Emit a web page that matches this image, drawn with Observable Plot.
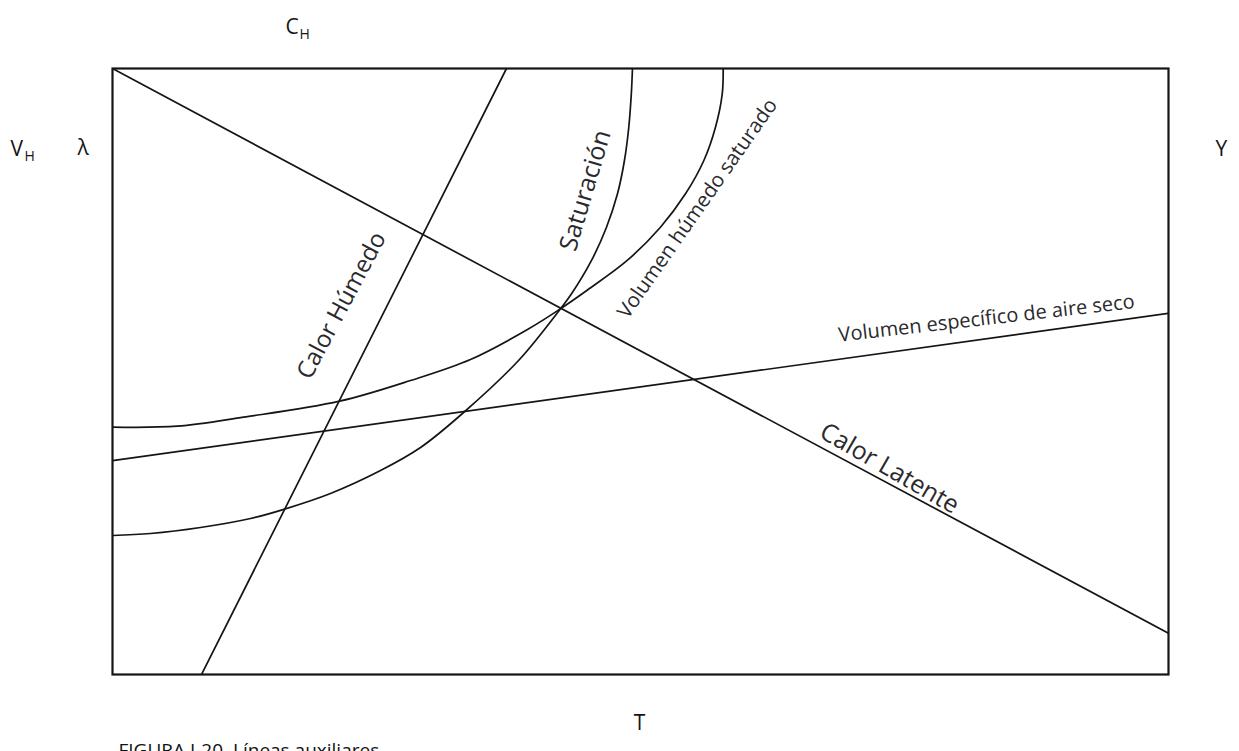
<!DOCTYPE html>
<html><head><meta charset="utf-8">
<script src="https://cdn.jsdelivr.net/npm/d3@7"></script>
<script src="https://cdn.jsdelivr.net/npm/@observablehq/plot@0.6"></script>
<style>html,body{margin:0;padding:0;background:#fff;overflow:hidden}</style>
</head><body><div id="chart"></div>
<script>
// Axis / label texts
const axisTop = ["C", "H"];
const axisLeft = ["V", "H", "λ"];
const axisRight = ["Y"];
const axisBottom = ["T"];
const captionText = ["FIGURA I-20. Líneas auxiliares"];
const lineLabels = ["Calor Húmedo", "Saturación", "Volumen húmedo saturado",
                    "Volumen específico de aire seco", "Calor Latente"];

// Series (T on x, 0-100 relative; ordinate 0-100 relative)
const saturacionT = [0, 3.6, 8.33, 13.07, 16.38, 20.64, 25.38, 29.17, 33.14, 38.45, 42.42, 43.47, 45.36, 46.78, 47.82, 48.48, 48.89, 49.13, 49.24];
const saturacionY = [22.94, 23.27, 24.26, 25.74, 27.34, 29.87, 33.66, 37.46, 43.07, 51.82, 60.35, 62.82, 68.32, 73.81, 79.32, 84.82, 90.31, 95.82, 100];

const volSatT = [0, 6.13, 12.41, 21.5, 28.22, 33.9, 39.3, 42.42, 44.98, 48.74, 51.89, 54.26, 56.0, 57.1, 57.74, 57.83];
const volSatY = [40.81, 40.97, 42.46, 45.1, 48.51, 51.98, 56.93, 60.35, 63.45, 68.32, 73.81, 79.32, 84.82, 90.31, 95.82, 100];

const latenteT = [0, 100];
const latenteY = [100, 6.8];

const humedoT = [8.43, 37.31];
const humedoY = [0, 100];

const secoT = [0, 100];
const secoY = [35.3, 59.6];

const toRows = (xs, ys) => xs.map((t, i) => ({t, v: ys[i]}));

const ink = "#151515";
const labelInk = "#2a2a2e";
const font = "Open Sans";
const lineOpts = {x: "t", y: "v", stroke: ink, strokeWidth: 1.7, clip: true};

const plot = Plot.plot({
  width: 1239,
  height: 751,
  marginLeft: 112,
  marginRight: 71,
  marginTop: 68,
  marginBottom: 77,
  x: {domain: [0, 100], axis: null},
  y: {domain: [0, 100], axis: null},
  style: {fontFamily: font, background: "#fff", overflow: "visible"},
  marks: [
    Plot.line(toRows(latenteT, latenteY), lineOpts),
    Plot.line(toRows(humedoT, humedoY), lineOpts),
    Plot.line(toRows(secoT, secoY), lineOpts),
    Plot.line(toRows(saturacionT, saturacionY), {...lineOpts, curve: "catmull-rom"}),
    Plot.line(toRows(volSatT, volSatY), {...lineOpts, curve: "catmull-rom"}),
    Plot.frame({stroke: ink, strokeWidth: 2.2}),

    // labels along the lines
    Plot.text([lineLabels[0]], {x: () => 21.69, y: () => 60.9, text: d => d, rotate: -62, fontSize: 24, fill: labelInk, fontFamily: font}),
    Plot.text([lineLabels[1]], {x: () => 44.79, y: () => 79.87, text: d => d, rotate: -73.5, fontSize: 25, fill: labelInk, fontFamily: font}),
    Plot.text([lineLabels[2]], {x: () => 55.4, y: () => 76.9, text: d => d, rotate: -55, fontSize: 20.5, fill: labelInk, fontFamily: font}),
    Plot.text([lineLabels[3]], {x: () => 82.77, y: () => 58.75, text: d => d, rotate: -6.5, fontSize: 20, fill: labelInk, fontFamily: font}),
    Plot.text([lineLabels[4]], {x: () => 73.58, y: () => 34.0, text: d => d, rotate: 30, fontSize: 25, fill: labelInk, fontFamily: font}),

    // axis labels
    Plot.text([axisTop[0]], {frameAnchor: "top-left", dx: 173, dy: -35, text: d => d, textAnchor: "start", lineAnchor: "bottom", fontSize: 21, fill: ink}),
    Plot.text([axisTop[1]], {frameAnchor: "top-left", dx: 187, dy: -30, text: d => d, textAnchor: "start", lineAnchor: "bottom", fontSize: 14, fill: ink}),
    Plot.text([axisLeft[0]], {frameAnchor: "top-left", dx: -102, dy: 87, text: d => d, textAnchor: "start", lineAnchor: "bottom", fontSize: 21, fill: ink}),
    Plot.text([axisLeft[1]], {frameAnchor: "top-left", dx: -88, dy: 92, text: d => d, textAnchor: "start", lineAnchor: "bottom", fontSize: 14, fill: ink}),
    Plot.text([axisLeft[2]], {frameAnchor: "top-left", dx: -35, dy: 86, text: d => d, textAnchor: "start", lineAnchor: "bottom", fontSize: 21, fill: ink}),
    Plot.text([axisRight[0]], {frameAnchor: "top-right", dx: 47, dy: 87, text: d => d, textAnchor: "start", lineAnchor: "bottom", fontSize: 21, fill: ink}),
    Plot.text([axisBottom[0]], {frameAnchor: "bottom", dx: -1, dy: 55, text: d => d, textAnchor: "middle", lineAnchor: "bottom", fontSize: 21, fill: ink}),
    Plot.text(captionText, {frameAnchor: "bottom-left", dx: 6, dy: 82, text: d => d, textAnchor: "start", lineAnchor: "bottom", fontSize: 19, fill: "#111"})
  ]
});
document.getElementById("chart").appendChild(plot);
</script>
</body></html>
